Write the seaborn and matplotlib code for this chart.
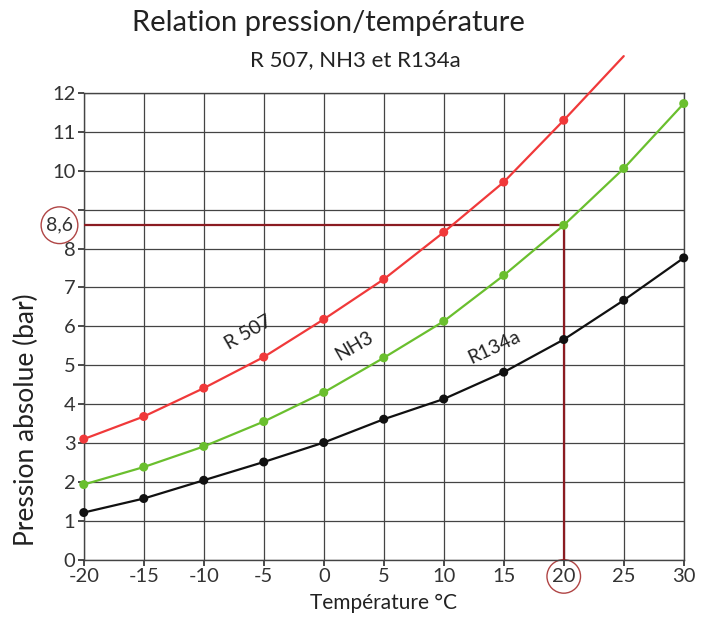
import matplotlib
matplotlib.use("Agg")
import matplotlib.pyplot as plt
import seaborn as sns
import pandas as pd

temps = [-20, -15, -10, -5, 0, 5, 10, 15, 20, 25, 30]
r507 = [3.1, 3.68, 4.41, 5.21, 6.18, 7.21, 8.42, 9.71, 11.3, 12.95, None]
nh3 = [1.93, 2.38, 2.91, 3.55, 4.3, 5.19, 6.13, 7.31, 8.6, 10.06, 11.73]
r134a = [1.21, 1.57, 2.04, 2.51, 3.01, 3.61, 4.13, 4.82, 5.66, 6.67, 7.76]
r507_marked = 9  # markers only up to 20 °C

read_temp = 20
read_press = 8.6

sns.set_theme(style="white")
plt.rcParams['font.family'] = ['Lato', 'DejaVu Sans']
plt.rcParams['axes.unicode_minus'] = False

df = pd.DataFrame({'temp': temps, 'R 507': r507, 'NH3': nh3, 'R134a': r134a})
colors = {'R 507': '#f0393a', 'NH3': '#6abf2e', 'R134a': '#111111'}

fig = plt.figure(figsize=(7.1, 6.33), dpi=100)
ax = fig.add_axes([0.118, 0.116, 0.845, 0.737])

for name in ['R 507', 'NH3', 'R134a']:
    d = df[['temp', name]].dropna()
    sns.lineplot(x='temp', y=name, data=d, color=colors[name], lw=1.6,
                 ax=ax, clip_on=False, zorder=4)
    if name == 'R 507':
        d = d.iloc[:r507_marked]
    sns.scatterplot(x='temp', y=name, data=d, color=colors[name], s=42,
                    edgecolor='none', ax=ax, clip_on=False, zorder=5)

# reading guide at 20 °C / 8,6 bar
guide = '#8b1c22'
ax.plot([temps[0], read_temp], [read_press, read_press], color=guide, lw=1.6, zorder=3)
ax.plot([read_temp, read_temp], [read_press, 0], color=guide, lw=1.6, zorder=3)

ax.set_xlim(-20, 30)
ax.set_ylim(0, 12)
ax.set_xticks(range(-20, 31, 5))
ax.set_yticks(range(0, 13))
ax.set_yticklabels(['' if v == 9 else str(v) for v in range(0, 13)])
ax.grid(True, color='#444444', lw=0.9)
for s in ax.spines.values():
    s.set_color('#444444')
    s.set_linewidth(1.0)
ax.tick_params(axis='both', labelsize=14.5, colors='#333333', length=4,
               direction='out', left=True, bottom=True, pad=2)

ax.text(-20.9, read_press, '8,6', ha='right', va='center', fontsize=14,
        color='#333333',
        bbox=dict(boxstyle='circle,pad=0.25', fc='none', ec='#b04545', lw=1))
for lbl in ax.get_xticklabels():
    if lbl.get_text() == '20':
        lbl.set_bbox(dict(boxstyle='circle,pad=0.25', fc='none', ec='#b04545', lw=1))

ax.set_xlabel('Température °C', fontsize=15, color='#222222', labelpad=6)
ax.set_ylabel('Pression absolue (bar)', fontsize=19, color='#222222')
ax.yaxis.set_label_coords(-0.075, 0.3)

ax.text(-6.3, 5.85, 'R 507', rotation=30, fontsize=14, color='#222222', ha='center', va='center')
ax.text(2.5, 5.5, 'NH3', rotation=30, fontsize=14, color='#222222', ha='center', va='center')
ax.text(14.2, 5.45, 'R134a', rotation=25, fontsize=14, color='#222222', ha='center', va='center')

fig.text(0.462, 0.963, 'Relation pression/température', ha='center', va='center',
         fontsize=21, color='#222222')
fig.text(0.5, 0.905, 'R 507, NH3 et R134a', ha='center', va='center',
         fontsize=16, color='#222222')

fig.savefig('out.png', dpi=100)
plt.close(fig)
